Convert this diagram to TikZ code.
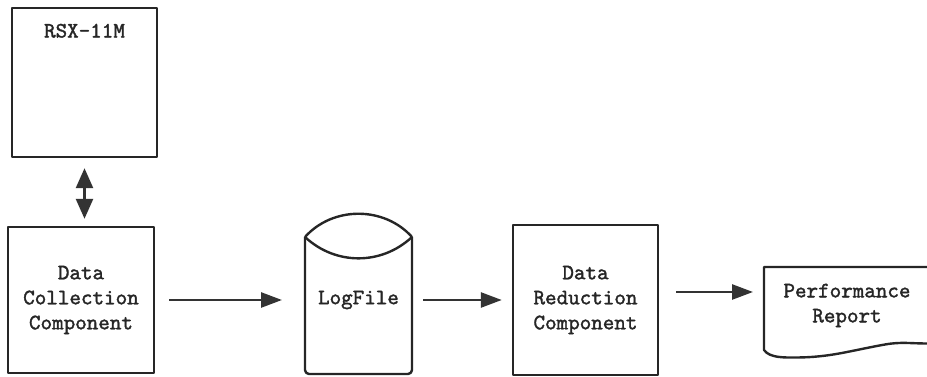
\documentclass[tikz,border=0pt]{standalone}
\usepackage{fontspec}
\setmonofont{lmmono10-regular}[Extension=.otf, BoldFont=lmmono10-regular, BoldFeatures={FakeBold=1.6}]
\usepackage{tikz}
\usetikzlibrary{calc}
\usetikzlibrary{arrows.meta}
\tikzset{txt/.style={align=center, text=black!85, font=\ttfamily\bfseries\fontsize{22}{25}\selectfont}}
\tikzset{box/.style={txt, draw=black!85, line width=2.4pt, minimum width=146pt, minimum height=146pt}}
\tikzset{outline/.style={draw=black!85, line width=2.4pt}}
\tikzset{flow/.style={draw=black!80, line width=2.6pt, -{Triangle[length=21pt, width=15pt]}}}

\begin{document}
\begin{tikzpicture}[x=1pt, y=1pt, line join=round]
    \useasboundingbox (0, 0) rectangle (927, 377);

    \node [box, minimum width=145pt, minimum height=149pt,
        label={[txt, anchor=center, yshift=-24pt]north:RSX-11M}] (rsx) at (84.5, 294.5) {};
    \node [box] (dc) at (81, 77) {Data\\Collection\\Component};
    \node [box, minimum width=145pt, minimum height=150pt] (dr) at (585.5, 77) {Data\\Reduction\\Component};

    \coordinate (LNW) at (305, 140);
    \coordinate (LNE) at (412, 140);
    \coordinate (LSW) at (305, 3);
    \coordinate (LSE) at (412, 3);
    \coordinate (RNE) at (927, 110);
    \coordinate (RNW) at (764, 110);
    \coordinate (RSW) at (764, 27);
    \coordinate (RLO) at (795, 19.5);
    \coordinate (RHI) at (885, 32.5);
    \coordinate (RSE) at (927, 33.5);
    \coordinate (RA) at (764, 85);

    \draw [outline, rounded corners=4pt] (LNW) -- (LSW) -- (LSE) -- (LNE);
    \draw [outline] (LNW) to [bend left=48] (LNE);
    \draw [outline] (LNW) to [bend right=43] (LNE);
    \node [txt] (log) at (358.5, 77) {LogFile};

    \draw [outline] (RNE) -- (RNW) -- (RSW)
        to [out=-55, in=180, looseness=0.8] (RLO)
        to [out=0, in=190] (RHI)
        to [out=10, in=180] (RSE);
    \node [txt] (rep) at (847, 71.5) {Performance\\Report};

    \draw [flow, {Triangle[length=20pt, width=17pt]}-{Triangle[length=20pt, width=17pt]},
        shorten <=10pt, shorten >=7pt] (rsx.south) -- (rsx.south |- dc.north);
    \draw [flow, shorten <=14pt, shorten >=23pt] (dc.east |- log) -- (LSW |- log);
    \draw [flow, shorten <=11pt, shorten >=10pt] (LSE |- log) -- (dr.west |- log);
    \draw [flow, shorten <=17pt, shorten >=11pt] (dr.east |- RA) -- (RA);

\end{tikzpicture}
\end{document}
